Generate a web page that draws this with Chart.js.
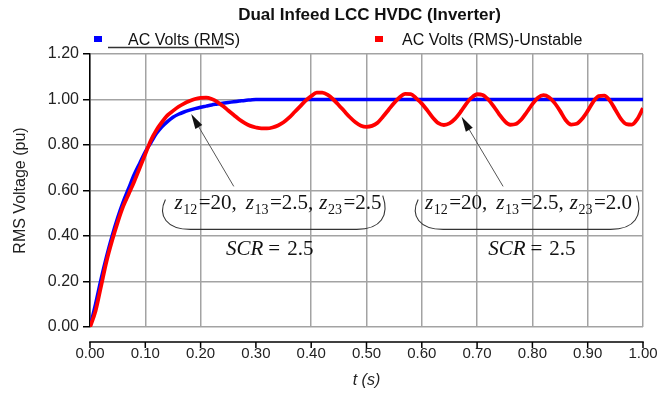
<!DOCTYPE html>
<html><head><meta charset="utf-8">
<script src="https://cdn.jsdelivr.net/npm/chart.js@4.4.0/dist/chart.umd.min.js"></script>
<style>html,body{margin:0;padding:0;background:#fff}</style>
</head><body>
<canvas id="c" width="666" height="396" style="width:666px;height:396px;display:block"></canvas>
<script>
const chartTitle = 'Dual Infeed LCC HVDC (Inverter)';
const seriesNames = ['AC Volts (RMS)', 'AC Volts (RMS)-Unstable'];
const xAxisTitle = 't (s)';
const yAxisTitle = 'RMS Voltage (pu)';

const times = [0.00,0.01,0.02,0.03,0.04,0.05,0.06,0.07,0.08,0.09,
0.10,0.11,0.12,0.13,0.14,0.15,0.16,0.17,0.18,0.19,
0.20,0.21,0.22,0.23,0.24,0.25,0.26,0.27,0.28,0.29,
0.30,0.31,0.32,0.33,0.34,0.35,0.36,0.37,0.38,0.39,
0.40,0.41,0.42,0.43,0.44,0.45,0.46,0.47,0.48,0.49,
0.50,0.51,0.52,0.53,0.54,0.55,0.56,0.57,0.58,0.59,
0.60,0.61,0.62,0.63,0.64,0.65,0.66,0.67,0.68,0.69,
0.70,0.71,0.72,0.73,0.74,0.75,0.76,0.77,0.78,0.79,
0.80,0.81,0.82,0.83,0.84,0.85,0.86,0.87,0.88,0.89,
0.90,0.91,0.92,0.93,0.94,0.95,0.96,0.97,0.98,0.99,1.00];

const stableVolts = [0,0.10,0.21,0.31,0.40,0.48,0.55,0.61,0.67,0.72,
0.77,0.81,0.85,0.88,0.903,0.922,0.935,0.945,0.953,0.96,
0.966,0.971,0.976,0.98,0.984,0.987,0.99,0.993,0.996,0.998,
1.0,1.0,1.0,1.0,1.0,1.0,1.0,1.0,1.0,1.0,
1.0,1.0,1.0,1.0,1.0,1.0,1.0,1.0,1.0,1.0,
1.0,1.0,1.0,1.0,1.0,1.0,1.0,1.0,1.0,1.0,
1.0,1.0,1.0,1.0,1.0,1.0,1.0,1.0,1.0,1.0,
1.0,1.0,1.0,1.0,1.0,1.0,1.0,1.0,1.0,1.0,
1.0,1.0,1.0,1.0,1.0,1.0,1.0,1.0,1.0,1.0,
1.0,1.0,1.0,1.0,1.0,1.0,1.0,1.0,1.0,1.0,1.0];

const unstableVolts = [0,0.07,0.18,0.29,0.38,0.46,0.53,0.585,0.64,0.70,
0.76,0.82,0.865,0.90,0.93,0.95,0.968,0.982,0.993,1.002,
1.007,1.008,1.002,0.99,0.972,0.952,0.932,0.912,0.896,0.884,
0.877,0.873,0.873,0.877,0.886,0.90,0.92,0.945,0.97,0.995,
1.015,1.03,1.03,1.02,1.0,0.975,0.948,0.922,0.90,0.885,
0.88,0.884,0.898,0.925,0.955,0.985,1.01,1.025,1.024,1.005,
0.982,0.952,0.92,0.896,0.888,0.895,0.915,0.945,0.98,1.008,
1.023,1.02,1.0,0.97,0.935,0.905,0.889,0.892,0.912,0.945,
0.98,1.008,1.019,1.01,0.985,0.95,0.91,0.89,0.893,0.915,
0.95,0.99,1.015,1.017,0.995,0.955,0.915,0.892,0.89,0.915,0.962];

const xTicks = [0,0.1,0.2,0.3,0.4,0.5,0.6,0.7,0.8,0.9,1.0];
const yTicks = [0,0.2,0.4,0.6,0.8,1.0,1.2];
const xGridHidden = [0.3];

// annotation anchors in data units (t, pu)
const arrowTips  = [[0.183,0.936],[0.672,0.924]];
const arrowTails = [[0.260,0.618],[0.747,0.618]];
const zLabelCenters = [[0.340,0.517],[0.793,0.517]];
const zValues = [['20','2.5','2.5'],['20','2.5','2.0']];
const braceSpans = [[0.131,0.533],[0.588,0.992]];
const braceLevels = [0.56,0.429];
const scrCenters = [[0.325,0.318],[0.799,0.318]];
const scrValues = ['2.5','2.5'];

const SANS = '"Liberation Sans", Arial, sans-serif';
const SERIF = '"Liberation Serif", "Times New Roman", serif';

function drawSegs(ctx, segs, cx, y) {
  let w = 0;
  segs.forEach(s => { ctx.font = s.font; s.w = ctx.measureText(s.text).width; w += s.w + (s.gap || 0); });
  let x = cx - w / 2;
  segs.forEach(s => { ctx.font = s.font; ctx.fillText(s.text, x, y + (s.dy || 0)); x += s.w + (s.gap || 0); });
}

const deco = {
  id: 'deco',
  afterDraw(chart) {
    const ctx = chart.ctx, ca = chart.chartArea;
    const xs = chart.scales.x, ys = chart.scales.y;
    ctx.save();
    // title
    ctx.fillStyle = '#111';
    ctx.font = 'bold 17px ' + SANS;
    ctx.textAlign = 'center'; ctx.textBaseline = 'middle';
    ctx.fillText(chartTitle, (ca.left + ca.right) / 2 + 3, 15);
    // legend
    const legendBoxX = [94, 375], legendTextX = [128, 402];
    ctx.font = '16px ' + SANS; ctx.textAlign = 'left';
    chart.data.datasets.forEach((ds, i) => {
      ctx.fillStyle = ds.borderColor;
      ctx.fillRect(legendBoxX[i], 36, 8, 6);
      ctx.fillStyle = '#111';
      ctx.fillText(ds.label, legendTextX[i], 41);
    });
    ctx.strokeStyle = '#333'; ctx.lineWidth = 1.3;
    ctx.beginPath(); ctx.moveTo(108, 47.5); ctx.lineTo(224, 47.5); ctx.stroke();
    // detached x axis line with ticks
    const axY = 342;
    ctx.strokeStyle = '#000'; ctx.lineWidth = 1.5;
    ctx.beginPath(); ctx.moveTo(xs.getPixelForValue(xTicks[0]) - 0.75, axY); ctx.lineTo(xs.getPixelForValue(xTicks[xTicks.length-1]) + 0.75, axY); ctx.stroke();
    xTicks.forEach(v => { const px = xs.getPixelForValue(v); ctx.beginPath(); ctx.moveTo(px, axY); ctx.lineTo(px, axY + 6); ctx.stroke(); });
    // arrows
    arrowTips.forEach((tip, i) => {
      const x2 = xs.getPixelForValue(tip[0]), y2 = ys.getPixelForValue(tip[1]);
      const x1 = xs.getPixelForValue(arrowTails[i][0]), y1 = ys.getPixelForValue(arrowTails[i][1]);
      const a = Math.atan2(y2 - y1, x2 - x1), L = 15, W = 4;
      ctx.strokeStyle = '#555'; ctx.lineWidth = 1;
      ctx.beginPath(); ctx.moveTo(x1, y1); ctx.lineTo(x2 - L * 0.8 * Math.cos(a), y2 - L * 0.8 * Math.sin(a)); ctx.stroke();
      const bx = x2 - L * Math.cos(a), by = y2 - L * Math.sin(a);
      ctx.fillStyle = '#111';
      ctx.beginPath(); ctx.moveTo(x2, y2);
      ctx.lineTo(bx + W * Math.sin(a), by - W * Math.cos(a));
      ctx.lineTo(bx - W * Math.sin(a), by + W * Math.cos(a));
      ctx.closePath(); ctx.fill();
    });
    // braces
    braceSpans.forEach(sp => {
      const l = xs.getPixelForValue(sp[0]), r = xs.getPixelForValue(sp[1]);
      const t = ys.getPixelForValue(braceLevels[0]), b = ys.getPixelForValue(braceLevels[1]);
      ctx.strokeStyle = '#333'; ctx.lineWidth = 1.1;
      ctx.beginPath();
      ctx.moveTo(l + 3, t);
      ctx.bezierCurveTo(l - 5, t + 16, l + 4, b, l + 28, b);
      ctx.lineTo(r - 28, b);
      ctx.bezierCurveTo(r - 4, b, r + 5, t + 16, r - 2, t - 4);
      ctx.stroke();
    });
    // math labels
    ctx.fillStyle = '#111'; ctx.textAlign = 'left'; ctx.textBaseline = 'alphabetic';
    const it = 'italic 21px ' + SERIF, rg = '21px ' + SERIF, sb = '14px ' + SERIF;
    zLabelCenters.forEach((c, i) => {
      const v = zValues[i];
      const segs = [
        {text:'z', font:it, gap:0.5}, {text:'12', font:sb, dy:5, gap:1.5}, {text:'=' + v[0] + ',', font:rg, gap:9},
        {text:'z', font:it, gap:0.5}, {text:'13', font:sb, dy:5, gap:1.5}, {text:'=' + v[1] + ',', font:rg, gap:6},
        {text:'z', font:it, gap:0.5}, {text:'23', font:sb, dy:5, gap:1.5}, {text:'=' + v[2], font:rg}
      ];
      drawSegs(ctx, segs, xs.getPixelForValue(c[0]), ys.getPixelForValue(c[1]));
    });
    scrCenters.forEach((c, i) => {
      const segs = [{text:'SCR', font:it, gap:5}, {text:'=', font:rg, gap:7}, {text:scrValues[i], font:rg}];
      drawSegs(ctx, segs, xs.getPixelForValue(c[0]), ys.getPixelForValue(c[1]));
    });
    ctx.restore();
  }
};

new Chart(document.getElementById('c'), {
  type: 'line',
  data: {
    datasets: [
      { label: seriesNames[0], data: times.map((t, i) => ({x: t, y: stableVolts[i]})),
        borderColor: '#0000ff', backgroundColor: '#0000ff', borderWidth: 3.5, pointRadius: 0,
        cubicInterpolationMode: 'monotone', order: 2 },
      { label: seriesNames[1], data: times.map((t, i) => ({x: t, y: unstableVolts[i]})),
        borderColor: '#ff0000', backgroundColor: '#ff0000', borderWidth: 3.8, pointRadius: 0,
        cubicInterpolationMode: 'monotone', order: 1 }
    ]
  },
  options: {
    responsive: false, animation: false, devicePixelRatio: 1,
    layout: { padding: { top: 54, right: 23, left: 0, bottom: 0 } },
    plugins: { legend: { display: false }, title: { display: false }, tooltip: { enabled: false } },
    scales: {
      x: {
        type: 'linear', min: 0, max: 1,
        afterBuildTicks: s => { s.ticks = xTicks.map(v => ({value: v})); },
        afterFit: s => { s.height = 69; s.paddingLeft = 0; s.paddingRight = 0; },
        grid: { color: c => (c.tick && xGridHidden.some(h => Math.abs(h - c.tick.value) < 1e-9)) ? 'rgba(0,0,0,0)' : '#a3a3a3', lineWidth: 1.5, drawTicks: false },
        border: { display: false },
        ticks: { padding: 18, autoSkip: false, maxRotation: 0, color: '#222', font: { family: SANS, size: 15 }, callback: v => Number(v).toFixed(2) },
        title: { display: true, text: xAxisTitle, color: '#222', font: { family: SANS, size: 16, style: 'italic' }, padding: { top: 0, bottom: 6 } }
      },
      y: {
        min: 0, max: 1.2,
        afterBuildTicks: s => { s.ticks = yTicks.map(v => ({value: v})); },
        afterFit: s => { s.width = 90; s.paddingTop = 0; s.paddingBottom = 0; },
        grid: { color: '#a3a3a3', lineWidth: 1.5, tickColor: '#000', tickLength: 7, drawTicks: true },
        border: { display: true, color: '#000', width: 1.5 },
        ticks: { padding: 4, color: '#222', font: { family: SANS, size: 16 }, callback: v => Number(v).toFixed(2) },
        title: { display: true, text: yAxisTitle, color: '#222', font: { family: SANS, size: 16 }, padding: { top: 11, bottom: 0 } }
      }
    }
  },
  plugins: [deco]
});
</script>
</body></html>
